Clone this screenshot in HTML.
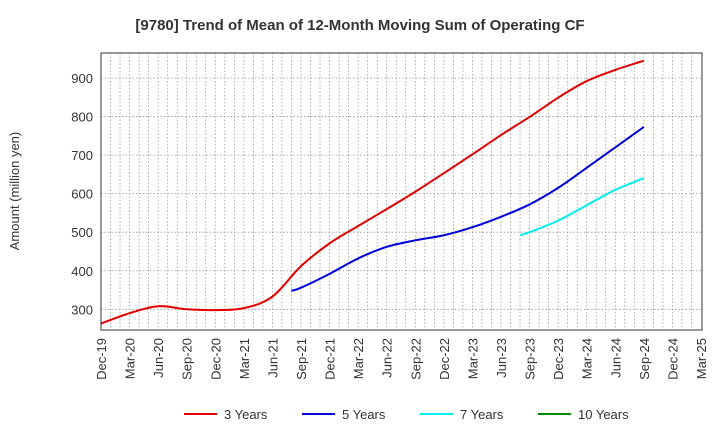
<!DOCTYPE html>
<html><head><meta charset="utf-8"><style>
body{margin:0;background:#fff;font-family:"Liberation Sans",sans-serif;}
svg text{font-family:"Liberation Sans",sans-serif;}
</style></head><body>
<svg id="chart" width="720" height="440">
<text x="360" y="30" text-anchor="middle" font-size="15" font-weight="bold" fill="#333">[9780]  Trend of Mean of 12-Month Moving Sum of Operating CF</text>
<text transform="translate(19,191) rotate(-90)" text-anchor="middle" font-size="13" fill="#333">Amount (million yen)</text>
<g id="grid"></g><g id="series"></g><g id="axes"></g><g id="legend"></g>
</svg>
<script>
const xLabels=["Dec-19","Mar-20","Jun-20","Sep-20","Dec-20","Mar-21","Jun-21","Sep-21","Dec-21","Mar-22","Jun-22","Sep-22","Dec-22","Mar-23","Jun-23","Sep-23","Dec-23","Mar-24","Jun-24","Sep-24","Dec-24","Mar-25"];
const yTicks=[300,400,500,600,700,800,900];
const s3Idx=[0,3,6,9,12,15,18,21,24,27,30,33,36,39,42,45,48,51,54,57];
const s3Val=[263,290,308,300,298,303,333,412,471,516,560,605,653,702,752,799,849,892,921,945];
const s5Idx=[20,21,24,27,30,33,36,39,42,45,48,51,54,57];
const s5Val=[348,356,392,432,462,479,492,513,540,572,615,667,720,773];
const s7Idx=[44,45,48,51,54,57];
const s7Val=[492,500,530,570,610,640];
const seriesNames=["3 Years","5 Years","7 Years","10 Years"];
const seriesColors=["#e00000","#0000dd","#00eeee","#008800"];
const L=101,R=702,T=53,B=330;
const X=i=>L+i*(R-L-1)/63;
const Y=v=>78+(900-v)*0.3855;
const NS="http://www.w3.org/2000/svg";
function mk(t,a,p){const e=document.createElementNS(NS,t);for(const k in a)e.setAttribute(k,a[k]);p.appendChild(e);return e;}
const grid=document.getElementById('grid'),axes=document.getElementById('axes'),ser=document.getElementById('series'),leg=document.getElementById('legend');
for(let m=1;m<63;m++){const l=mk('line',{x1:X(m),x2:X(m),y1:T,y2:B,stroke:'#999','stroke-width':0.8,'stroke-dasharray':'1.5,2'},grid);

}
yTicks.forEach(v=>{const l=mk('line',{x1:L,x2:R,y1:Y(v),y2:Y(v),stroke:'#999','stroke-width':0.8,'stroke-dasharray':'1.5,2'},grid);


const t=mk('text',{x:L-8,y:Y(v)+5,'text-anchor':'end','font-size':13,fill:'#333'},axes);t.textContent=v;

});
xLabels.forEach((s,i)=>{const x=X(i*3);const t=mk('text',{transform:`translate(${x+5},${B+8}) rotate(-90)`,'text-anchor':'end','font-size':13,fill:'#333'},axes);t.textContent=s;

});
const fr=mk('rect',{x:L,y:T,width:R-L,height:B-T,fill:'none',stroke:'#333','stroke-width':1},axes);


function path(idx,val){const p=idx.map((m,k)=>[X(m),Y(val[k])]);let d=`M${p[0][0]},${p[0][1]}`;
for(let k=0;k<p.length-1;k++){const p0=p[k-1]||p[k],p1=p[k],p2=p[k+1],p3=p[k+2]||p2;
d+=` C${p1[0]+(p2[0]-p0[0])/6},${p1[1]+(p2[1]-p0[1])/6} ${p2[0]-(p3[0]-p1[0])/6},${p2[1]-(p3[1]-p1[1])/6} ${p2[0]},${p2[1]}`;}return d;}
[[s3Idx,s3Val,0,'line-3-years'],[s5Idx,s5Val,1,'line-5-years'],[s7Idx,s7Val,2,'line-7-years']].forEach(([a,b,c,n])=>{
const e=mk('path',{d:path(a,b),fill:'none',stroke:seriesColors[c],'stroke-width':2},ser);

});
const lx=[184,302,420,538];
seriesNames.forEach((s,i)=>{const g=mk('g',{},leg);


mk('line',{x1:lx[i],x2:lx[i]+33,y1:414,y2:414,stroke:seriesColors[i],'stroke-width':2},g);
const t=mk('text',{x:lx[i]+40,y:419,'font-size':13,fill:'#333'},g);t.textContent=s;});
</script>
</body></html>
